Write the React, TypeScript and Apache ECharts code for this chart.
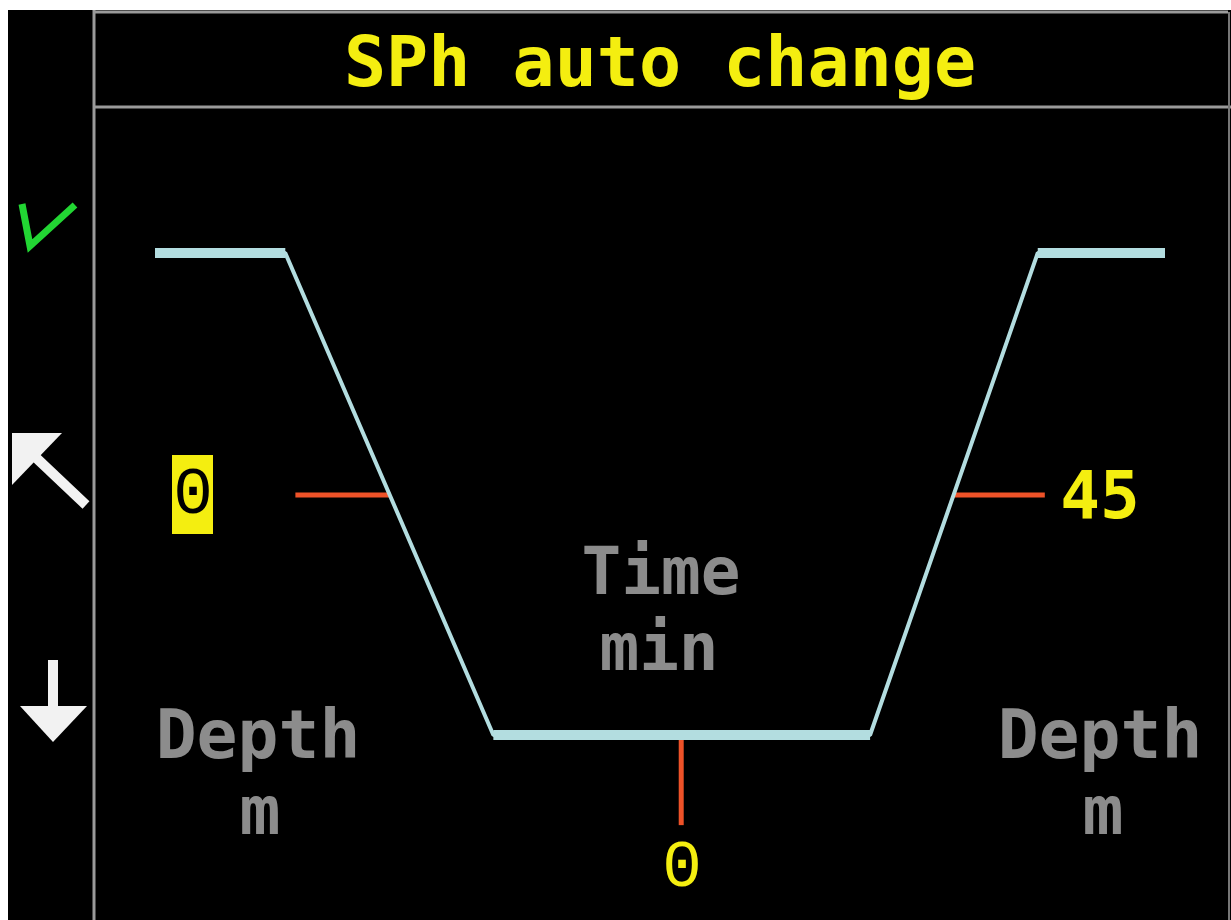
import React, { useEffect, useRef } from "react";
import * as echarts from "echarts";

// Dive profile (time in % of span, depth in % of range)
const profileTime = [0, 12.9, 33.5, 70.8, 87.4, 100];
const profileDepth = [0, 0, 100, 100, 0, 0];

// Flat segments (surface, bottom, surface) drawn thicker
const flatSegments = [
  [[0, 0], [12.9, 0]],
  [[33.5, 100], [70.8, 100]],
  [[87.4, 0], [100, 0]],
];

// Red setting ticks
const leftTick = [[13.9, 50.2], [23.3, 50.2]];
const rightTick = [[79.0, 50.2], [88.1, 50.2]];
const bottomTick = [[52.1, 101], [52.1, 118.7]];

const title = "SPh auto change";
const timeLabel = ["Time", "min"];
const depthLabel = ["Depth", "m"];
const leftValue = "0";
const rightValue = "45";
const bottomValue = "0";

const MONO = "'DejaVu Sans Mono', monospace";
const DIGIT = "'Liberation Mono', 'DejaVu Sans Mono', monospace";

export default function App() {
  const ref = useRef<HTMLDivElement>(null);
  useEffect(() => {
    const chart = echarts.init(ref.current!, null, { renderer: "svg" });
    const profileData = profileTime.map((t, i) => [t, profileDepth[i]]);
    const gray = "#8c8c8c";
    const line = "#b3dde0";
    const red = "#ee5228";
    const yellow = "#f4ee10";
    const frame = "#9a9a9a";

    const redSeries = [leftTick, rightTick, bottomTick].map((d) => ({
      type: "line",
      data: d,
      clip: false,
      symbol: "none",
      lineStyle: { color: red, width: 5 },
      z: 3,
    }));
    const flatSeries = flatSegments.map((d) => ({
      type: "line",
      data: d,
      clip: false,
      symbol: "none",
      lineStyle: { color: line, width: 10, cap: "butt" },
      z: 5,
    }));

    chart.setOption({
      animation: false,
      backgroundColor: "#ffffff",
      grid: { left: 155, top: 253, width: 1010, height: 482, containLabel: false },
      xAxis: { type: "value", min: 0, max: 100, show: false },
      yAxis: { type: "value", min: 0, max: 100, inverse: true, show: false },
      graphic: [
        { type: "rect", z: -10, shape: { x: 8, y: 10, width: 1223, height: 910 }, style: { fill: "#000" } },
        { type: "line", z: -5, shape: { x1: 94, y1: 12, x2: 1228, y2: 12 }, style: { stroke: frame, lineWidth: 3 } },
        { type: "line", z: -5, shape: { x1: 94, y1: 107, x2: 1231, y2: 107 }, style: { stroke: frame, lineWidth: 3 } },
        { type: "line", z: -5, shape: { x1: 94, y1: 10, x2: 94, y2: 920 }, style: { stroke: frame, lineWidth: 3 } },
        { type: "line", z: -5, shape: { x1: 1229, y1: 12, x2: 1229, y2: 920 }, style: { stroke: "#777", lineWidth: 2 } },
        // checkmark
        { type: "polyline", z: 10, shape: { points: [[22, 204], [30, 246], [75, 205]] }, style: { stroke: "#22d633", lineWidth: 7, fill: null } },
        // up-left arrow
        { type: "polygon", z: 10, shape: { points: [[12, 433], [62, 433], [12, 485]] }, style: { fill: "#f2f2f2" } },
        { type: "line", z: 10, shape: { x1: 30, y1: 452, x2: 86, y2: 505 }, style: { stroke: "#f2f2f2", lineWidth: 10 } },
        // down arrow
        { type: "line", z: 10, shape: { x1: 53, y1: 660, x2: 53, y2: 712 }, style: { stroke: "#f2f2f2", lineWidth: 10 } },
        { type: "polygon", z: 10, shape: { points: [[20, 706], [87, 706], [53, 742]] }, style: { fill: "#f2f2f2" } },
        // title
        { type: "text", z: 10, x: 660, y: 62, style: { text: title, fill: yellow, font: `bold 70px ${MONO}`, textAlign: "center", textVerticalAlign: "middle" } },
        // time label
        { type: "text", z: 10, x: 661, y: 571, style: { text: timeLabel[0], fill: gray, font: `bold 66px ${MONO}`, textAlign: "center", textVerticalAlign: "middle" } },
        { type: "text", z: 10, x: 659, y: 647, style: { text: timeLabel[1], fill: gray, font: `bold 66px ${MONO}`, textAlign: "center", textVerticalAlign: "middle" } },
        // depth labels
        { type: "text", z: 10, x: 258, y: 734, style: { text: depthLabel[0], fill: gray, font: `bold 68px ${MONO}`, textAlign: "center", textVerticalAlign: "middle" } },
        { type: "text", z: 10, x: 260, y: 810, style: { text: depthLabel[1], fill: gray, font: `bold 68px ${MONO}`, textAlign: "center", textVerticalAlign: "middle" } },
        { type: "text", z: 10, x: 1100, y: 734, style: { text: depthLabel[0], fill: gray, font: `bold 68px ${MONO}`, textAlign: "center", textVerticalAlign: "middle" } },
        { type: "text", z: 10, x: 1103, y: 810, style: { text: depthLabel[1], fill: gray, font: `bold 68px ${MONO}`, textAlign: "center", textVerticalAlign: "middle" } },
        // values
        { type: "rect", z: 9, shape: { x: 172, y: 455, width: 41, height: 79 }, style: { fill: yellow } },
        { type: "text", z: 10, x: 193, y: 495, style: { text: leftValue, fill: "#000", font: `66px ${DIGIT}`, textAlign: "center", textVerticalAlign: "middle" } },
        { type: "text", z: 10, x: 1100, y: 495, style: { text: rightValue, fill: yellow, font: `bold 66px ${MONO}`, textAlign: "center", textVerticalAlign: "middle" } },
        { type: "text", z: 10, x: 682, y: 868, style: { text: bottomValue, fill: yellow, font: `66px ${DIGIT}`, textAlign: "center", textVerticalAlign: "middle" } },
      ],
      series: [
        ...redSeries,
        {
          type: "line",
          data: profileData,
          clip: false,
          symbol: "none",
          lineStyle: { color: line, width: 4 },
          z: 4,
        },
        ...flatSeries,
      ],
    });
    return () => chart.dispose();
  }, []);
  return (
    <div
      ref={ref}
      style={{ position: "fixed", left: 0, top: 0, width: 1231, height: 920 }}
    />
  );
}
